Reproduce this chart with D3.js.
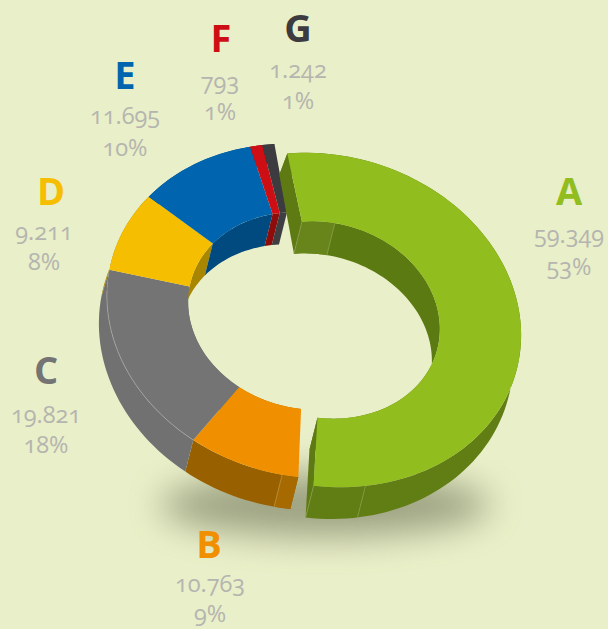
<!DOCTYPE html>
<html>
<head>
<meta charset="utf-8">
<script src="https://cdn.jsdelivr.net/npm/d3@7"></script>
<style>
html,body{margin:0;padding:0;background:#e9efc8;}
svg{display:block;}
text{text-anchor:middle;font-family:"Open Sans",sans-serif;}
.letter{font-size:38px;font-weight:700;}
.val{font-size:23.5px;fill:#b5b5b0;font-variant-numeric:oldstyle-nums;font-feature-settings:"onum";}
</style>
</head>
<body>
<div id="chart"></div>
<script>
const WIDTH = 608;
const HEIGHT = 629;

const categories = ["A","B","C","D","E","F","G"];
const values = [59349,10763,19821,9211,11695,793,1242];
const percents = [53,9,18,8,10,1,1];

const topColors = ["#92bd1e","#f09000","#747474","#f6be00","#0065ae","#ce0e15","#3c3c40"];
const outerWallColors = ["#617e14","#996000","#717171","#a88600","#004a80","#8a0c0c","#2c2c30"];
const innerWallColors = ["#5c7a12","#996000","#717171","#a88600","#004a80","#8f0c0c","#3f3f43"];

// label layout: letter x, letter y, text x, value y, percent y
const labelPos = [
    [569,205,569,243,275],
    [209,558,210,592,622],
    [46,384,46,423,453],
    [51,205,44,240,270],
    [125,89,125,124,156],
    [221,52,220,90,120],
    [298,42,298,78,109]
];

const CX = 305, CY = 311;
const R_OUT = 200, R_IN = 118;
const SQUASH = 165/200;
const TILT = 14;
const EXPLODE = [18,9];
const DEPTH_X = -8, DEPTH_Y = 32;
const rad = d=>d*Math.PI/180;

let svg = d3.select("#chart")
    .append("svg")
    .attr("width",WIDTH)
    .attr("height",HEIGHT);

svg.append("defs").append("filter")
    .attr("id","blur")
    .attr("x","-30%").attr("y","-80%")
    .attr("width","160%").attr("height","260%")
    .append("feGaussianBlur").attr("stdDeviation",17);

svg.append("ellipse")
    .attr("cx",325).attr("cy",505)
    .attr("rx",165).attr("ry",32)
    .attr("fill","#6f7558")
    .attr("opacity",0.62)
    .attr("filter","url(#blur)");

// the slices follow the rounded percentages, not the raw values
let slices = d3.pie().sort(null)
    .startAngle(rad(-20.5))
    .endAngle(rad(339.5))(percents);

let arc = d3.arc().innerRadius(R_IN).outerRadius(R_OUT);
let line = d3.line();

function ringPoint(r,a,bottom){
    let x = r*Math.sin(a);
    let y = -r*SQUASH*Math.cos(a);
    let t = rad(TILT);
    let px = x*Math.cos(t)-y*Math.sin(t);
    let py = x*Math.sin(t)+y*Math.cos(t);
    if(bottom){
        px += DEPTH_X;
        // outer back edge sits higher than the front edge
        py += r===R_OUT ? 26.5-5.5*Math.cos(a) : DEPTH_Y;
    }
    return [px,py];
}

function wallPath(r,a0,a1){
    let n = Math.max(2,Math.ceil(Math.abs(a1-a0)/rad(2)));
    let angles = d3.range(n+1).map(k=>a0+(a1-a0)*k/n);
    let top = angles.map(a=>ringPoint(r,a,false));
    let bottom = angles.slice().reverse().map(a=>ringPoint(r,a,true));
    return line(top.concat(bottom))+"Z";
}

function capPath(a){
    return line([
        ringPoint(R_OUT,a,false),
        ringPoint(R_IN,a,false),
        ringPoint(R_IN,a,true),
        ringPoint(R_OUT,a,true)
    ])+"Z";
}

function seamPath(r,a){
    return line([ringPoint(r,a,false),ringPoint(r,a,true)]);
}

function drawWalls(g,s){
    g.append("path").attr("d",wallPath(R_IN,s.startAngle,s.endAngle))
        .attr("fill",innerWallColors[s.index]);
    g.append("path").attr("d",wallPath(R_OUT,s.startAngle,s.endAngle))
        .attr("fill",outerWallColors[s.index]);
}

function addSeam(g,r,a,color){
    g.append("path").attr("d",seamPath(r,a))
        .attr("stroke",color).attr("stroke-width",0.7).attr("fill","none");
}

// A's exploded slice opens a little wider at both corners
let sliceA = Object.assign({},slices[0],{
    startAngle:slices[0].startAngle+rad(-1.5),
    endAngle:slices[0].endAngle+rad(0.8)
});
let rest = svg.append("g").attr("transform",`translate(${CX},${CY})`);
slices.slice(1).forEach(s=>drawWalls(rest,s));

// lighter first panel of B's wall
let seamB = rad(175);
rest.append("path").attr("d",wallPath(R_OUT,slices[1].startAngle,seamB)).attr("fill","#a66a00");
addSeam(rest,R_OUT,seamB,"#c09a50");

let groupA = svg.append("g").attr("transform",`translate(${CX+EXPLODE[0]},${CY+EXPLODE[1]})`);
drawWalls(groupA,sliceA);

// A's wall panels and end faces
let seamOuterA = rad(156), seamInnerA = rad(-5.8);
groupA.append("path").attr("d",wallPath(R_IN,sliceA.startAngle,seamInnerA)).attr("fill","#67851a");
groupA.append("path").attr("d",capPath(sliceA.startAngle)).attr("fill","#5e7a12");
groupA.append("path").attr("d",capPath(sliceA.endAngle)).attr("fill","#5e7a12");
addSeam(groupA,R_OUT,seamOuterA,"#8fa554");
addSeam(groupA,R_OUT,sliceA.endAngle,"#8fa554");
addSeam(groupA,R_IN,seamInnerA,"#8fa554");
addSeam(groupA,R_IN,sliceA.startAngle,"#8fa554");

// tops
let tops = `rotate(${TILT}) scale(1,${SQUASH})`;
let restTop = rest.append("g").attr("transform",tops);
slices.slice(1).forEach(s=>{
    restTop.append("path")
        .attr("d",arc({startAngle:s.startAngle,endAngle:s.endAngle}))
        .attr("fill",topColors[s.index]);
});
groupA.append("g").attr("transform",tops)
    .append("path")
    .attr("d",arc({startAngle:sliceA.startAngle,endAngle:sliceA.endAngle}))
    .attr("fill",topColors[0]);

// pale rim where C's top meets its same-coloured wall
let rimStart = slices[2].startAngle;
let rim = d3.range(25).map(k=>ringPoint(R_OUT,rimStart+k*rad(2.4),false));
rest.append("path").attr("d",line(rim))
    .attr("fill","none").attr("stroke","#a8a8a8").attr("stroke-width",0.7);

// labels
let fmt = d3.formatLocale({decimal:",",thousands:".",grouping:[3],currency:["",""]}).format(",d");
let labels = svg.selectAll(".label")
    .data(categories)
    .enter()
    .append("g")
    .attr("class","label");

labels.append("text")
    .attr("class","letter")
    .attr("x",(d,i)=>labelPos[i][0])
    .attr("y",(d,i)=>labelPos[i][1])
    .style("fill",(d,i)=>topColors[i])
    .text(d=>d);
labels.append("text")
    .attr("class","val")
    .attr("x",(d,i)=>labelPos[i][2])
    .attr("y",(d,i)=>labelPos[i][3])
    .text((d,i)=>fmt(values[i]));
labels.append("text")
    .attr("class","val")
    .attr("x",(d,i)=>labelPos[i][2])
    .attr("y",(d,i)=>labelPos[i][4])
    .text((d,i)=>percents[i]+"%");
</script>
</body>
</html>
